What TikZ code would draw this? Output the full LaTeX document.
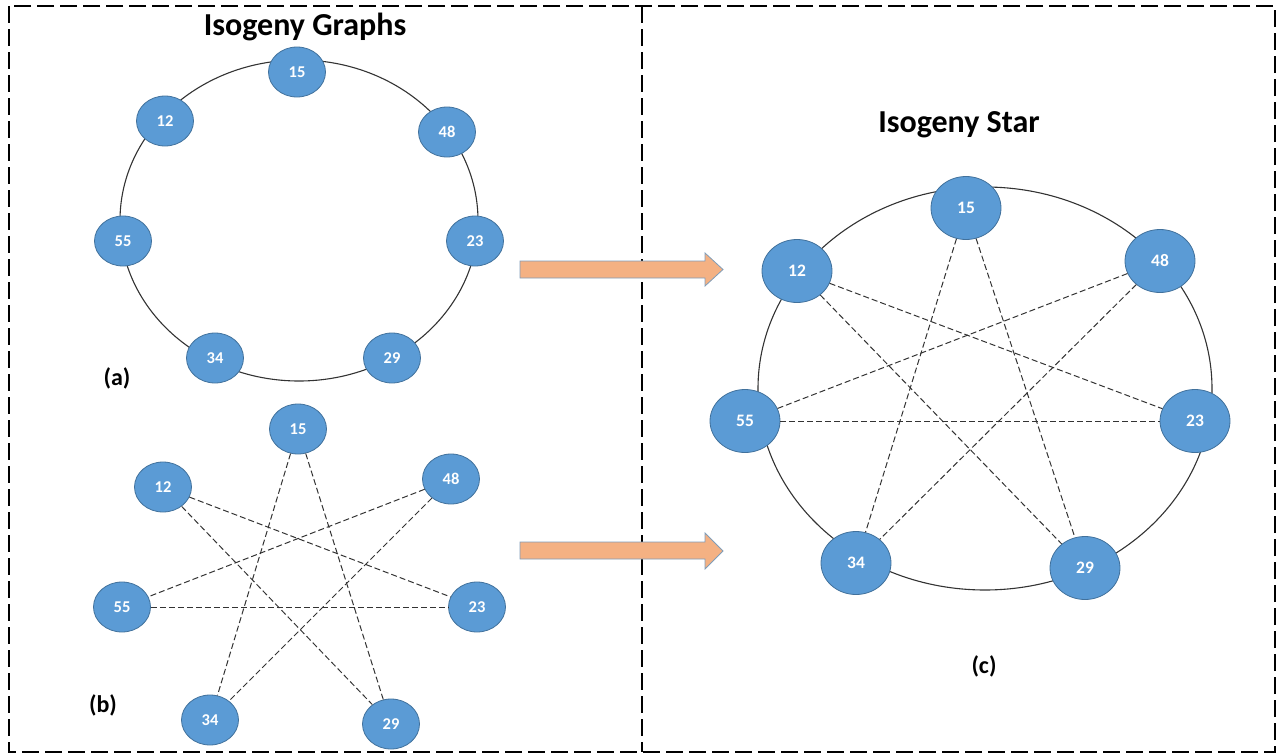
\documentclass[tikz,border=0pt]{standalone}
\usepackage{fontspec}
\setmainfont{Carlito}
\usetikzlibrary{shapes.geometric}
\definecolor{nodefill}{HTML}{5B9BD5}
\definecolor{nodeline}{HTML}{41719C}
\definecolor{arrowfill}{HTML}{F4B183}
\definecolor{arrowline}{HTML}{7F9DB9}
\begin{document}
\begin{tikzpicture}[x=1pt,y=-1pt,
  sm/.style={ellipse, draw=nodeline, line width=0.8pt, fill=nodefill, minimum width=57pt, minimum height=50pt, inner sep=0pt, text=white, font=\bfseries\fontsize{16.5}{16.5}\selectfont},
  lg/.style={sm, minimum width=70pt, minimum height=63pt, font=\bfseries\fontsize{17.5}{17.5}\selectfont},
  ring/.style={draw=black!80, line width=1.1pt},
  dedge/.style={draw=black!80, line width=1pt, dash pattern=on 6pt off 3pt},
  frame/.style={draw=black, line width=2pt, dash pattern=on 17pt off 6pt},
  title/.style={font=\bfseries\fontsize{32}{32}\selectfont, inner sep=0pt},
  lab/.style={font=\bfseries\fontsize{24}{24}\selectfont, inner sep=0pt},
  bigarrow/.style={fill=arrowfill, draw=arrowline, line width=0.8pt, line join=miter}
]
\useasboundingbox (0,0) rectangle (1278,755);

% frame
\draw[frame] (9,6) rectangle (1275,752);
\coordinate (divtop) at (642,6);
\coordinate (divbot) at (642,752);
\draw[frame] (divtop) -- (divbot);

% titles and labels
\node[title] (t1) at (305,27) {Isogeny Graphs};
\node[title] (t2) at (959,125) {Isogeny Star};
\node[lab] (la) at (117,378) {(a)};
\node[lab] (lb) at (103,705) {(b)};
\node[lab] (lc) at (984,666) {(c)};

% panel (a)
\draw[ring] (299,220.5) ellipse [x radius=179pt, y radius=160.5pt];
\node[sm] (a15) at (297,72) {15};
\node[sm] (a12) at (165,121) {12};
\node[sm] (a48) at (447,132) {48};
\node[sm] (a55) at (123,241) {55};
\node[sm] (a23) at (475,241) {23};
\node[sm] (a34) at (215,358) {34};
\node[sm] (a29) at (392,358) {29};

% panel (b)
\node[sm] (b15) at (298,429) {15};
\node[sm] (b12) at (163,487) {12};
\node[sm] (b48) at (451,479) {48};
\node[sm] (b55) at (122,607) {55};
\node[sm] (b23) at (477,607) {23};
\node[sm] (b34) at (210,720) {34};
\node[sm] (b29) at (391,724) {29};
\draw[dedge] (b12) -- (b23);
\draw[dedge] (b12) -- (b29);
\draw[dedge] (b15) -- (b34);
\draw[dedge] (b15) -- (b29);
\draw[dedge] (b48) -- (b55);
\draw[dedge] (b48) -- (b34);
\draw[dedge] (b55) -- (b23);

% panel (c)
\draw[ring] (985,388.5) ellipse [x radius=227pt, y radius=201.5pt];
\node[lg] (c15) at (966,208) {15};
\node[lg] (c12) at (797,271) {12};
\node[lg] (c48) at (1160,261) {48};
\node[lg] (c55) at (745,421) {55};
\node[lg] (c23) at (1195,421) {23};
\node[lg] (c34) at (856,563) {34};
\node[lg] (c29) at (1085,568) {29};
\draw[dedge] (c12) -- (c23);
\draw[dedge] (c12) -- (c29);
\draw[dedge] (c15) -- (c34);
\draw[dedge] (c15) -- (c29);
\draw[dedge] (c48) -- (c55);
\draw[dedge] (c48) -- (c34);
\draw[dedge] (c55) -- (c23);

% block arrows
\draw[bigarrow] (520,261) -- (705,261) -- (705,253) -- (723,269.5) -- (705,286) -- (705,278) -- (520,278) -- cycle;
\draw[bigarrow] (520,542) -- (705,542) -- (705,533) -- (723,551) -- (705,569) -- (705,559) -- (520,559) -- cycle;
\end{tikzpicture}
\end{document}
